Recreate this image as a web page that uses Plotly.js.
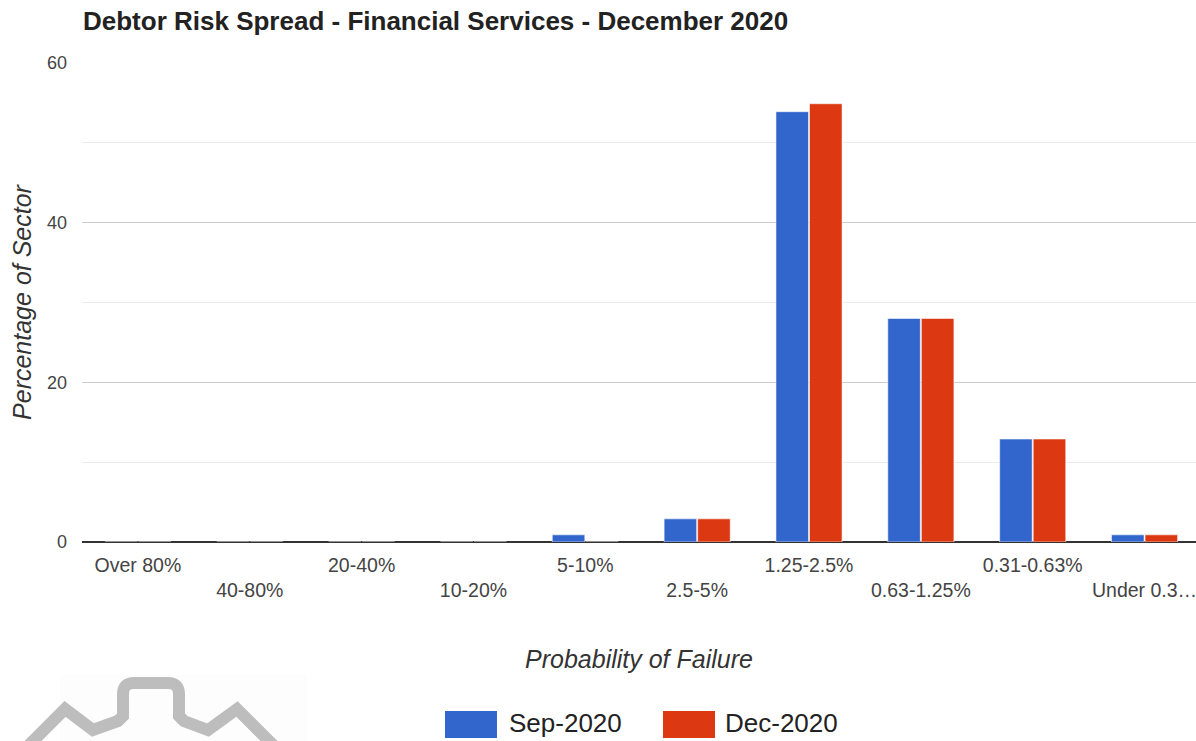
<!DOCTYPE html>
<html>
<head>
<meta charset="utf-8">
<script src="https://cdn.plot.ly/plotly-3.0.1.min.js"></script>
<style>
  html, body { margin: 0; padding: 0; background: #fff; }
  #chart { width: 1196px; height: 741px; }
</style>
</head>
<body>
<div id="chart"></div>
<script>
// ---- Data ----
const categories = ['Over 80%', '40-80%', '20-40%', '10-20%', '5-10%', '2.5-5%', '1.25-2.5%', '0.63-1.25%', '0.31-0.63%', 'Under 0.31%'];
const tickLabels = ['Over 80%', '40-80%', '20-40%', '10-20%', '5-10%', '2.5-5%', '1.25-2.5%', '0.63-1.25%', '0.31-0.63%', 'Under 0.3\u2026'];
const seriesNames = ['Sep-2020', 'Dec-2020'];
const sepValues = [0, 0, 0, 0, 0.9, 2.9, 53.9, 28, 12.9, 0.9];
const decValues = [0, 0, 0, 0, 0, 2.9, 54.9, 28, 12.9, 0.9];
const seriesColors = ['#3366cc', '#dc3912'];
const chartTitle = 'Debtor Risk Spread - Financial Services - December 2020';
const xTitle = 'Probability of Failure';
const yTitle = 'Percentage of Sector';

// ---- Layout geometry (style) ----
const W = 1196, H = 741;
const M = { l: 82, r: 0, t: 63, b: 199 };
const PW = W - M.l - M.r, PH = H - M.t - M.b;
const FONT = '"Liberation Sans", Arial, sans-serif';
const px = x => (x - M.l) / PW;            // pixel x -> paper x
const py = y => (H - M.b - y) / PH;        // pixel y -> paper y

const idx = categories.map((c, i) => i);
const staggered = tickLabels.map((t, i) => (i % 2 ? '<br>' + t : t));

const traces = [sepValues, decValues].map((vals, k) => ({
  type: 'bar',
  x: idx,
  y: vals,
  name: seriesNames[k],
  marker: { color: seriesColors[k], line: { color: 'rgba(255,255,255,0.55)', width: 1 } },
  hoverinfo: 'x+y+name',
  showlegend: false
}));

// custom legend (large swatches like the reference)
const legendPos = [{ sx: 445, tx: 507 }, { sx: 663, tx: 723 }];
const shapes = [];
const annotations = [];
seriesNames.forEach((n, k) => {
  shapes.push({
    type: 'rect', xref: 'paper', yref: 'paper',
    x0: px(legendPos[k].sx), x1: px(legendPos[k].sx + 52),
    y0: py(738), y1: py(711),
    fillcolor: seriesColors[k], line: { width: 0 }
  });
  annotations.push({
    xref: 'paper', yref: 'paper', x: px(legendPos[k].tx), y: py(723),
    xanchor: 'left', yanchor: 'middle', showarrow: false,
    text: n, font: { family: FONT, size: 26, color: '#222' }
  });
});

// faint watermark logo at bottom-left
shapes.push({
  type: 'rect', xref: 'paper', yref: 'paper', layer: 'below',
  x0: px(60), x1: px(307), y0: py(745), y1: py(675),
  fillcolor: '#fdfdfd', line: { width: 0 }
});
const P = (x, y) => px(x).toFixed(5) + ',' + py(y).toFixed(5);
const logoPath =
  'M' + P(22, 752) + ' L' + P(65, 709) + ' L' + P(93, 730) + ' L' + P(118, 721) +
  ' L' + P(123, 716) + ' L' + P(123, 694) + ' Q' + P(123, 683) + ' ' + P(134, 683) +
  ' L' + P(168, 683) + ' Q' + P(179, 683) + ' ' + P(179, 694) + ' L' + P(179, 716) +
  ' L' + P(184, 721) + ' L' + P(208, 730) + ' L' + P(237, 709) + ' L' + P(280, 752);
shapes.push({
  type: 'path', xref: 'paper', yref: 'paper', path: logoPath,
  line: { color: '#bdbdbd', width: 12 }
});

const layout = {
  width: W, height: H,
  margin: M,
  paper_bgcolor: '#fff', plot_bgcolor: '#fff',
  font: { family: FONT, color: '#444' },
  title: {
    text: '<b>' + chartTitle + '</b>',
    xref: 'container', yref: 'container',
    x: 83 / W, xanchor: 'left', y: 1 - 21 / H, yanchor: 'middle',
    font: { family: FONT, size: 26, color: '#222' }
  },
  bargap: 0.4,
  bargroupgap: 0.03,
  barmode: 'group',
  showlegend: false,
  xaxis: {
    type: 'linear',
    range: [-0.5, 9.46],
    tickmode: 'array', tickvals: idx, ticktext: staggered,
    ticks: '', showgrid: false, zeroline: false, showline: false,
    ticklabelstandoff: 9,
    ticklabeloverflow: 'allow',
    tickfont: { family: FONT, size: 19.5, color: '#444' },
    automargin: false,
    fixedrange: true,
    title: { text: '<i>' + xTitle + '</i>', standoff: 50, font: { family: FONT, size: 25, color: '#333' } }
  },
  yaxis: {
    range: [0, 60],
    tickmode: 'linear', tick0: 0, dtick: 20,
    showgrid: true, gridcolor: '#cccccc', gridwidth: 1,
    minor: { dtick: 10, showgrid: true, gridcolor: '#ebebeb', gridwidth: 1 },
    zeroline: true, zerolinecolor: '#333', zerolinewidth: 2,
    showline: false, ticks: '',
    ticklabelstandoff: 14,
    tickfont: { family: FONT, size: 18, color: '#444' },
    automargin: false,
    fixedrange: true,
    title: { text: '<i>' + yTitle + '</i>', standoff: 8, font: { family: FONT, size: 25, color: '#333' } }
  },
  shapes: shapes,
  annotations: annotations
};

Plotly.newPlot('chart', traces, layout, { displayModeBar: false, staticPlot: true });
</script>
</body>
</html>
